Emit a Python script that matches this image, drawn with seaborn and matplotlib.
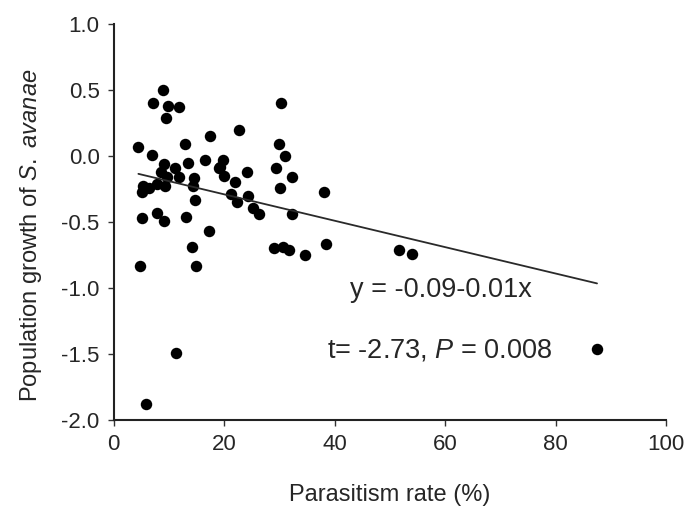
import numpy as np
import pandas as pd
import seaborn as sns
import matplotlib.pyplot as plt

# parasitism rate (%) and population growth
parasitism = [8.9, 7.2, 9.9, 11.8, 9.5, 4.5, 6.9, 13.0, 17.5, 9.1,
              11.2, 13.5, 16.6, 19.0, 8.6, 9.6, 7.9, 9.3, 11.9, 5.3,
              5.1, 6.5, 14.5, 14.3, 14.8, 5.1, 7.8, 9.1, 13.1, 17.2,
              14.2, 30.3, 22.7, 30.0, 31.1, 19.9, 19.3, 20.0, 24.2, 29.4,
              32.3, 30.2, 38.1, 22.0, 21.2, 24.4, 22.4, 25.2, 26.3, 32.3,
              29.1, 30.7, 31.7, 34.7, 38.4, 51.6, 54.0, 87.5, 4.7, 14.9,
              11.3, 5.9]
growth = [0.50, 0.40, 0.38, 0.37, 0.29, 0.07, 0.01, 0.09, 0.15, -0.06,
          -0.09, -0.05, -0.03, -0.09, -0.12, -0.16, -0.21, -0.23, -0.16, -0.23,
          -0.27, -0.24, -0.17, -0.23, -0.33, -0.47, -0.43, -0.49, -0.46, -0.57,
          -0.69, 0.40, 0.20, 0.09, 0.00, -0.03, -0.08, -0.15, -0.12, -0.09,
          -0.16, -0.24, -0.27, -0.20, -0.29, -0.30, -0.35, -0.39, -0.44, -0.44,
          -0.70, -0.69, -0.71, -0.75, -0.67, -0.71, -0.74, -1.46, -0.83, -0.83,
          -1.49, -1.88]

# fitted line as printed on the chart
intercept = -0.09
slope = -0.01

sns.set_style("ticks")
plt.rcParams['font.family'] = ['Liberation Sans', 'DejaVu Sans']
plt.rcParams['mathtext.fontset'] = 'custom'
plt.rcParams['mathtext.rm'] = 'Liberation Sans'
plt.rcParams['mathtext.it'] = 'Liberation Sans:italic'

df = pd.DataFrame({"rate": parasitism, "growth": growth})
line = pd.DataFrame({"rate": [min(parasitism), max(parasitism)]})
line["growth"] = intercept + slope * line["rate"]

fig = plt.figure(figsize=(6.86, 5.11), dpi=100)
ax = fig.add_axes([0.1655, 0.178, 0.8055, 0.775])

sns.lineplot(data=line, x="rate", y="growth", color="#2a2a2a", linewidth=1.3, ax=ax)
sns.scatterplot(data=df, x="rate", y="growth", color="black", s=68,
                edgecolor="black", linewidth=0, ax=ax)

ax.set_xlim(0, 100)
ax.set_ylim(-2.0, 1.0)
ax.set_xticks(np.arange(0, 101, 20))
ax.set_yticks(np.arange(-2.0, 1.01, 0.5))
ax.set_yticklabels([f"{v:.1f}" for v in np.arange(-2.0, 1.01, 0.5)])
ax.tick_params(labelsize=16, length=4, width=1, color="#333333", pad=6)
for sp in ["left", "bottom"]:
    ax.spines[sp].set_linewidth(1.5)
    ax.spines[sp].set_color("#222222")
sns.despine(ax=ax)

ax.set_xlabel("Parasitism rate (%)", fontsize=17, labelpad=21)
ax.set_ylabel(r"Population growth of $\it{S.\ avanae}$", fontsize=17)
ax.yaxis.set_label_coords(-0.126, 0.467)

ax.text(42.8, -1.015, "y = -0.09-0.01x", fontsize=19.5, va="center")
ax.text(38.7, -1.47, r"t= -2.73, $\it{P}$ = 0.008", fontsize=19.5, va="center")

fig.savefig("out.png", dpi=100)
